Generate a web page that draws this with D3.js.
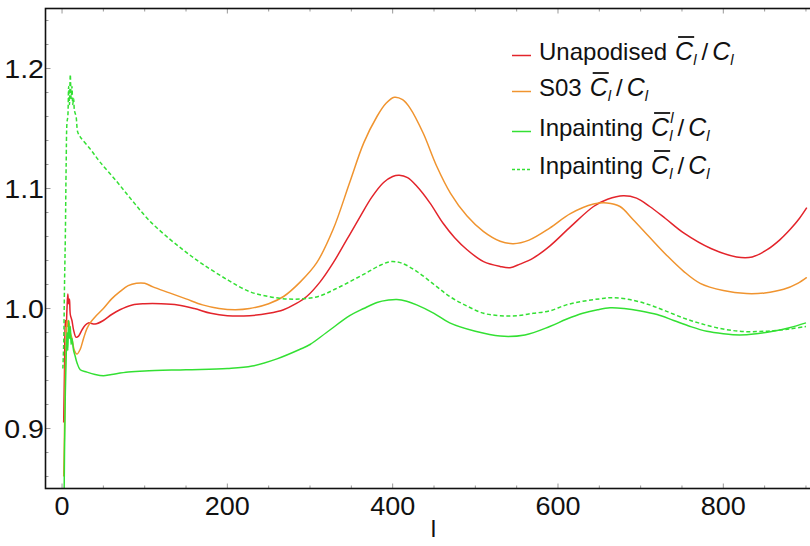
<!DOCTYPE html>
<html><head><meta charset="utf-8">
<script src="https://cdn.jsdelivr.net/npm/d3@7"></script>
<style>html,body{margin:0;padding:0;background:#fff;overflow:hidden}svg{display:block}</style>
</head><body>
<script>
// ---- data ----
const unapodL = [2,3,4,5,6,7,8,9,10,12,14,17,20,24,28,32,40,50,60,70,85,100,120,140,160,180,200,227,250,268,283,296,312,328,345,361,375,389,400,408,418,429,445,461,475,490,510,530,542,554,570,590,615,643,660,679,695,711,730,752,785,816,835,853,868,881,892,901];
const unapodV = [0.905,0.95,0.99,0.985,1.0,1.012,1.004,1.008,0.995,0.99,0.982,0.976,0.977,0.982,0.986,0.988,0.987,0.99,0.995,0.999,1.003,1.004,1.004,1.003,1.0,0.996,0.994,0.994,0.996,0.999,1.004,1.010,1.022,1.038,1.058,1.077,1.093,1.105,1.110,1.111,1.109,1.102,1.088,1.071,1.059,1.049,1.039,1.035,1.034,1.037,1.042,1.052,1.068,1.085,1.091,1.094,1.092,1.085,1.075,1.063,1.050,1.043,1.043,1.049,1.057,1.066,1.075,1.084];

const s03L = [2,3,4,5,6,7,8,10,12,15,18,22,26,30,34,40,50,60,70,80,90,100,110,130,150,170,190,210,227,250,268,288,308,328,348,365,381,392,402,412,421,437,453,470,490,510,530,546,565,590,615,643,659,675,691,710,732,752,772,800,828,850,873,890,901];
const s03V = [0.86,0.9,0.95,0.975,0.99,0.985,0.99,0.98,0.975,0.965,0.962,0.966,0.975,0.983,0.988,0.993,1.0,1.008,1.014,1.019,1.021,1.021,1.018,1.013,1.008,1.003,1.0,0.999,1.0,1.004,1.010,1.022,1.038,1.066,1.105,1.138,1.160,1.171,1.176,1.174,1.167,1.146,1.119,1.096,1.077,1.064,1.056,1.054,1.057,1.067,1.079,1.087,1.088,1.085,1.074,1.060,1.044,1.031,1.021,1.015,1.0125,1.013,1.016,1.021,1.026];

const inpPrimeL = [2,3,4,5,6,7,8,9,10,11,12,14,16,18,22,30,40,50,60,80,100,150,200,230,260,288,300,320,348,365,381,395,405,417,429,450,469,500,530,560,590,610,630,648,663,680,700,720,740,760,780,800,820,840,860,880,900];
const inpPrimeV = [0.80,0.88,0.93,0.96,0.98,0.965,0.99,0.975,0.985,0.97,0.975,0.965,0.96,0.955,0.949,0.947,0.945,0.944,0.945,0.947,0.948,0.949,0.950,0.952,0.958,0.966,0.970,0.980,0.994,1.0,1.005,1.007,1.0075,1.006,1.003,0.996,0.988,0.981,0.977,0.978,0.985,0.991,0.996,0.999,1.0006,1.0,0.998,0.995,0.990,0.985,0.981,0.979,0.978,0.979,0.981,0.984,0.988];

const inpL = [1,2,3,4,5,6,7,8,9,10,11,12,13,14,15,17,19,22,34,46,66,86,106,130,150,170,200,227,250,270,290,310,330,350,369,385,397,410,429,450,469,490,510,530,550,570,590,610,630,650,667,690,711,730,752,770,792,820,850,880,900];
const inpV = [0.95,0.97,1.02,1.06,1.12,1.155,1.16,1.185,1.17,1.195,1.175,1.185,1.17,1.175,1.165,1.16,1.147,1.143,1.133,1.122,1.106,1.089,1.073,1.058,1.047,1.037,1.024,1.014,1.010,1.008,1.008,1.010,1.016,1.023,1.030,1.036,1.039,1.038,1.031,1.020,1.010,1.002,0.996,0.994,0.994,0.996,0.998,1.003,1.006,1.008,1.009,1.007,1.003,0.998,0.992,0.988,0.984,0.981,0.981,0.983,0.985];

const xMajorTicks = [0,200,400,600,800];
const yMajorTicks = [0.9,1.0,1.1,1.2];
const xLabel = "l";
const legendPrefixes = ["Unapodised", "S03", "Inpainting", "Inpainting"];

// ---- layout ----
const W = 810, H = 546;
const FONT = "'Liberation Sans', Arial, sans-serif";
const svg = d3.select("body").append("svg").attr("width", W).attr("height", H);

const x = d3.scaleLinear().domain([-20, 920]).range([45.5, 822.5]);
const y = d3.scaleLinear().domain([0.85, 1.25]).range([488.5, 8.5]);

svg.append("clipPath").attr("id","clip").append("rect")
  .attr("x", x.range()[0]).attr("y", y.range()[1])
  .attr("width", x.range()[1]-x.range()[0]).attr("height", y.range()[0]-y.range()[1]);

const series = [
  {L: unapodL, V: unapodV, color: "#e3242b", dash: null},
  {L: s03L, V: s03V, color: "#f0942f", dash: null},
  {L: inpPrimeL, V: inpPrimeV, color: "#33e033", dash: null},
  {L: inpL, V: inpV, color: "#33e033", dash: "4,2.5"}
];

const line = d3.line().x(d => x(d[0])).y(d => y(d[1])).curve(d3.curveCatmullRom.alpha(0.5));
const plotG = svg.append("g").attr("clip-path","url(#clip)");
series.forEach(s => {
  plotG.append("path")
    .datum(s.L.map((l,i) => [l, s.V[i]]))
    .attr("d", line)
    .attr("fill","none")
    .attr("stroke", s.color)
    .attr("stroke-width", 1.5)
    .attr("stroke-dasharray", s.dash)
    .attr("stroke-linejoin","round");
});

// ---- frame & ticks ----
const x0 = x.range()[0], x1 = x.range()[1], yb = y.range()[0], yt = y.range()[1];
const xMinor = d3.range(0, 901, 50).filter(v => !xMajorTicks.includes(v));
const yMinor = d3.range(0.86, 1.2401, 0.02).filter(v => !yMajorTicks.some(m => Math.abs(m-v) < 1e-6));
const tickG = svg.append("g").attr("stroke","#999").attr("stroke-width",1);
xMajorTicks.forEach(v => {
  tickG.append("line").attr("x1",x(v)).attr("x2",x(v)).attr("y1",yb).attr("y2",yb-5);
  tickG.append("line").attr("x1",x(v)).attr("x2",x(v)).attr("y1",yt).attr("y2",yt+5);
});
xMinor.forEach(v => {
  tickG.append("line").attr("x1",x(v)).attr("x2",x(v)).attr("y1",yb).attr("y2",yb-3);
  tickG.append("line").attr("x1",x(v)).attr("x2",x(v)).attr("y1",yt).attr("y2",yt+3);
});
yMajorTicks.forEach(v => {
  tickG.append("line").attr("x1",x0).attr("x2",x0+5).attr("y1",y(v)).attr("y2",y(v));
});
yMinor.forEach(v => {
  tickG.append("line").attr("x1",x0).attr("x2",x0+3).attr("y1",y(v)).attr("y2",y(v));
});
svg.append("rect").attr("x",x0).attr("y",yt).attr("width",x1-x0).attr("height",yb-yt)
  .attr("fill","none").attr("stroke","#111").attr("stroke-width",1.6);

// tick labels
const txtG = svg.append("g").attr("font-family",FONT).attr("fill","#111");
xMajorTicks.forEach(v => {
  txtG.append("text").attr("transform",`translate(${x(v)},515) scale(1.08,1)`)
    .attr("text-anchor","middle").attr("font-size",25).text(d3.format("d")(v));
});
yMajorTicks.forEach(v => {
  txtG.append("text").attr("transform",`translate(44,${y(v)+9}) scale(1.1,1)`)
    .attr("text-anchor","end").attr("font-size",26).text(d3.format(".1f")(v));
});
txtG.append("text").attr("x",(x0+x1)/2 - 0.5).attr("y",537).attr("text-anchor","middle")
  .attr("font-size",24).text(xLabel);

// ---- legend ----
const legX = 512, legTextX = 539;
const legRows = [
  {base: 60, prime: false},
  {base: 96, prime: false},
  {base: 136, prime: true},
  {base: 174, prime: false}
];
const legG = svg.append("g").attr("font-family",FONT).attr("fill","#111");
function seg(g, xp, yb2, txt, size, italic) {
  const t = g.append("text").attr("x",xp).attr("y",yb2).attr("font-size",size)
    .attr("font-style", italic ? "italic" : "normal").text(txt);
  return t.node().getComputedTextLength();
}
legRows.forEach((r, i) => {
  const s = series[i];
  legG.append("line").attr("x1",legX).attr("x2",legX+19).attr("y1",r.base-4.5).attr("y2",r.base-4.5)
    .attr("stroke",s.color).attr("stroke-width",1.5).attr("stroke-dasharray", s.dash ? "3,2" : null);
  let cx = legTextX;
  cx += seg(legG, cx, r.base, legendPrefixes[i], 24, false) + 8;
  // C with overline
  const cw = seg(legG, cx, r.base, "C", 25, true);
  legG.append("line").attr("x1",cx+3).attr("x2",cx+cw+1).attr("y1",r.base-23).attr("y2",r.base-23)
    .attr("stroke","#111").attr("stroke-width",1.8);
  cx += cw;
  if (r.prime) {
    seg(legG, cx+1, r.base-13, "l", 15, true);
  }
  cx += seg(legG, cx, r.base+5, "l", 15, true) + 5;
  cx += seg(legG, cx, r.base, "/", 24, false) + 4;
  cx += seg(legG, cx, r.base, "C", 25, true);
  seg(legG, cx, r.base+5, "l", 15, true);
});
</script>
</body></html>
